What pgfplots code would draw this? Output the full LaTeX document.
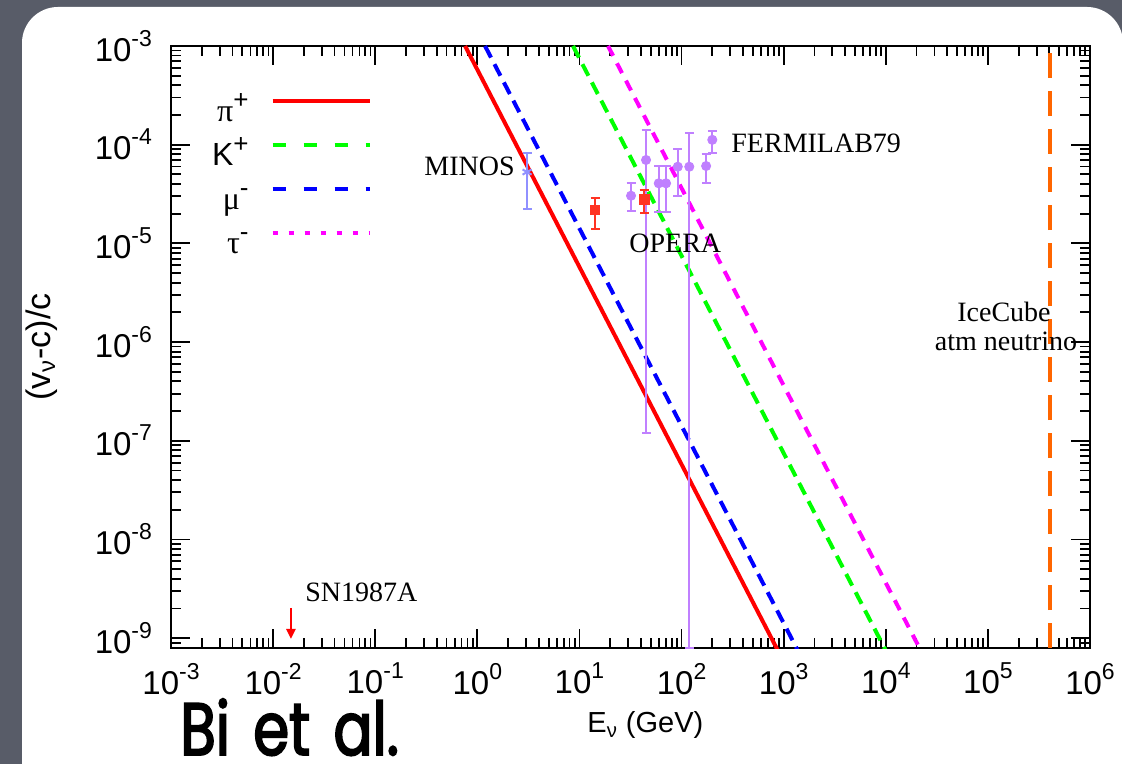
\documentclass[border=0pt]{standalone}
\usepackage{pgfplots}
\pgfplotsset{compat=1.18}
\usepackage{fontspec}
\setmainfont{Liberation Sans}
\newfontfamily\serif{Liberation Serif}
\newfontfamily\chalk{Poppins}[FakeStretch=0.78, FakeBold=2.5]
\usetikzlibrary{arrows.meta}
\definecolor{bg}{RGB}{88,92,104}
\definecolor{fermi}{RGB}{192,128,255}
\definecolor{opera}{RGB}{255,51,34}
\definecolor{minos}{RGB}{144,144,255}
\definecolor{ice}{RGB}{255,102,0}
\definecolor{mygreen}{RGB}{0,255,0}
\definecolor{mymag}{RGB}{255,0,255}
\definecolor{myblue}{RGB}{0,0,255}
\definecolor{myred}{RGB}{255,0,0}
\newcommand\tl[1]{10\raisebox{7.5pt}{\fontsize{11.5}{12}\selectfont#1}}
\newcommand\lsup[1]{\raisebox{6.5pt}{\fontsize{13}{14}\selectfont#1}}

\pgfplotstableread{
x y ep em
32.0 3.04e-5 1.02e-5 0.91e-5
44.9 7.0e-5 7.1e-5 6.988e-5
59.8 4.06e-5 2.02e-5 1.97e-5
70.5 4.06e-5 2.02e-5 1.97e-5
91.8 5.98e-5 2.99e-5 2.96e-5
119 5.98e-5 7.12e-5 5.97992e-5
174 6.08e-5 1.97e-5 1.96e-5
200 1.12e-4 2.7e-5 3.02e-5
}\fermi
\pgfplotstableread{
x y ep em
14.2 2.18e-5 0.70e-5 0.78e-5
43.0 2.80e-5 0.67e-5 0.78e-5
}\opera
\pgfplotstableread{
x y ep em
3.07 5.28e-5 2.9e-5 3.05e-5
}\minos

\begin{document}
\begin{tikzpicture}
\useasboundingbox (0,0) rectangle (561pt,382pt);
\clip (0,0) rectangle (561pt,382pt);
\fill[bg] (0,0) rectangle (561pt,382pt);
\fill[white, rounded corners=18pt] (11pt,-40pt) rectangle (561.5pt,378.5pt);
\begin{axis}[
  at={(85.5pt,58pt)}, anchor=south west,
  scale only axis, width=459.5pt, height=301pt,
  xmode=log, ymode=log,
  xmin=1e-3, xmax=1e6, ymin=7.94e-10, ymax=1e-3,
  axis line style={line width=1.2pt},
  every tick/.style={line width=0.9pt, black},
  major tick length=9.5pt, minor tick length=5pt,
  tick align=inside,
  xtick={1e-3,1e-2,1e-1,1,10,100,1e3,1e4,1e5,1e6},
  xticklabels={\tl{-3},\tl{-2},\tl{-1},\tl{0},\tl{1},\tl{2},\tl{3},\tl{4},\tl{5},\tl{6}},
  minor xtick={2e-3,3e-3,4e-3,5e-3,6e-3,7e-3,8e-3,9e-3,
    2e-2,3e-2,4e-2,5e-2,6e-2,7e-2,8e-2,9e-2,
    2e-1,3e-1,4e-1,5e-1,6e-1,7e-1,8e-1,9e-1,
    2,3,4,5,6,7,8,9,
    20,30,40,50,60,70,80,90,
    200,300,400,500,600,700,800,900,
    2e3,3e3,4e3,5e3,6e3,7e3,8e3,9e3,
    2e4,3e4,4e4,5e4,6e4,7e4,8e4,9e4,
    2e5,3e5,4e5,5e5,6e5,7e5,8e5,9e5},
  ytick={1e-9,1e-8,1e-7,1e-6,1e-5,1e-4,1e-3},
  yticklabels={\tl{-9},\tl{-8},\tl{-7},\tl{-6},\tl{-5},\tl{-4},\tl{-3}},
  minor ytick={8e-10,9e-10,
    2e-9,3e-9,4e-9,5e-9,6e-9,7e-9,8e-9,9e-9,
    2e-8,3e-8,4e-8,5e-8,6e-8,7e-8,8e-8,9e-8,
    2e-7,3e-7,4e-7,5e-7,6e-7,7e-7,8e-7,9e-7,
    2e-6,3e-6,4e-6,5e-6,6e-6,7e-6,8e-6,9e-6,
    2e-5,3e-5,4e-5,5e-5,6e-5,7e-5,8e-5,9e-5,
    2e-4,3e-4,4e-4,5e-4,6e-4,7e-4,8e-4,9e-4},
  tick label style={font=\fontsize{16.5}{18}\selectfont},
  xticklabel style={yshift=-4pt},
  yticklabel style={xshift=-6pt},
  legend plot pos=right,
  legend image code/.code={\path (0pt,0pt); \draw[#1] (11pt,7pt) -- (59.5pt,7pt);},
  legend style={at={(axis description cs:0.2187,0.9219)}, anchor=north east,
    draw=none, fill=none, inner sep=0pt, row sep=0pt,
    font=\fontsize{16}{18}\selectfont, cells={anchor=east},
    nodes={inner sep=0pt, text height=14pt, text depth=8pt}},
]
\addlegendimage{myred, line width=2pt}
\addlegendentry{{\serif π}\lsup{+}}
\addlegendimage{mygreen, line width=2pt, dash pattern=on 6.5pt off 9pt}
\addlegendentry{K\lsup{+}}
\addlegendimage{myblue, line width=2pt, dash pattern=on 6.5pt off 9pt}
\addlegendentry{{\serif μ}\lsup{-}}
\addlegendimage{mymag, line width=2pt, dash pattern=on 2.75pt off 5.25pt}
\addlegendentry{{\serif τ}\lsup{-}}

\addplot[forget plot, myred, line width=2pt] coordinates {(0.759,1e-3) (2400,1e-10)};
\addplot[forget plot, myblue, line width=2pt, dash pattern=on 6.5pt off 3.75pt] coordinates {(1.19,1e-3) (3763,1e-10)};
\addplot[forget plot, mygreen, line width=2pt, dash pattern=on 6.5pt off 3.75pt] coordinates {(8.65,1e-3) (27350,1e-10)};
\addplot[forget plot, mymag, line width=2pt, dash pattern=on 5.5pt off 4.25pt] coordinates {(19.05,1e-3) (60240,1e-10)};
\addplot[forget plot, ice, line width=2pt, dash pattern=on 12.5pt off 6.5pt] coordinates {(4.07e5,7.94e-10) (4.07e5,1e-3)};
\addplot[forget plot, myred, line width=1.2pt, -{Triangle[width=4.5pt,length=5pt]}] coordinates {(0.01496,2.02e-9) (0.01496,9.8e-10)};

\addplot[forget plot, only marks, fermi, mark=*, mark size=2.3pt,
  error bars/.cd, y dir=both, y explicit,
  error bar style={line width=1pt, fermi},
  error mark options={rotate=90, mark size=2.25pt, line width=1pt, fermi}]
  table[x=x, y=y, y error plus=ep, y error minus=em] {\fermi};
\addplot[forget plot, only marks, opera, mark=square*, mark size=2.4pt,
  error bars/.cd, y dir=both, y explicit,
  error bar style={line width=1pt, opera},
  error mark options={rotate=90, mark size=2.25pt, line width=1pt, opera}]
  table[x=x, y=y, y error plus=ep, y error minus=em] {\opera};
\addplot[forget plot, only marks, minos, mark=asterisk, mark size=2.6pt, mark options={line width=1pt},
  error bars/.cd, y dir=both, y explicit,
  error bar style={line width=1pt, minos},
  error mark options={rotate=90, mark size=2.25pt, line width=1pt, minos}]
  table[x=x, y=y, y error plus=ep, y error minus=em] {\minos};
\end{axis}

\begin{scope}[every node/.style={inner sep=0pt}, font=\serif\fontsize{14}{16}\selectfont]
\node[anchor=base east] at (257.5pt,294pt) {MINOS};
\node[anchor=base west] at (365.5pt,305.5pt) {FERMILAB79};
\node[anchor=base west] at (314.5pt,255.5pt) {OPERA};
\node[anchor=base] at (502pt,221pt) {IceCube};
\node[anchor=base] at (503pt,206.7pt) {atm neutrino};
\node[anchor=base west] at (152.5pt,81pt) {SN1987A};
\end{scope}
\node[inner sep=0pt, anchor=base west, font=\fontsize{14.5}{16}\selectfont] at (293.5pt,15.5pt) {E\textsubscript{ν} (GeV)};
\node[inner sep=0pt, anchor=base, rotate=90, font=\fontsize{17}{19}\selectfont] at (25pt,208.5pt) {(v\textsubscript{ν}-c)/c};
\node[inner sep=0pt, anchor=base west, font=\chalk\fontsize{37}{40}\selectfont] at (90pt,4.5pt) {Bi\hspace{4pt} et\hspace{4pt} al.};
\end{tikzpicture}
\end{document}
